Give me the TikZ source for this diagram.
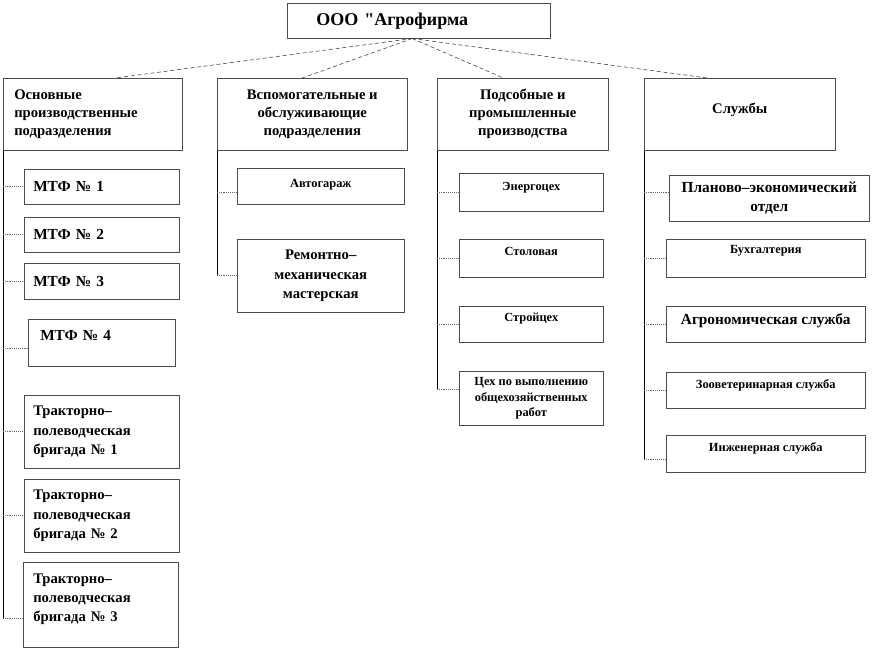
\documentclass[tikz,border=0pt]{standalone}
\usepackage{fontspec}
\setmainfont{Liberation Serif}
\begin{document}
\begin{tikzpicture}[x=0.75pt, y=-0.75pt,
                box/.style={draw=black!70, thin, anchor=north west, inner sep=0pt},
                sz/.style 2 args={minimum width=#1*0.75pt, minimum height=#2*0.75pt},
                lft/.style 2 args={align=left, inner xsep=#2*0.75pt, text width=(#1-2*#2)*0.75pt},
                ttl/.style={font=\bfseries\fontsize{13.5}{16}\selectfont},
                big/.style={font=\bfseries\fontsize{11}{13.5}\selectfont},
                mtf/.style={font=\bfseries\fontsize{11.5}{14}\selectfont},
                mid/.style={font=\bfseries\fontsize{11}{14.5}\selectfont},
                wide/.style={font=\bfseries\fontsize{11.5}{14.25}\selectfont},
                small/.style={font=\bfseries\fontsize{9.3}{11.6}\selectfont},
                bus/.style={black, thin},
                branch/.style={black!60, densely dotted, thin},
                link/.style={black!80, densely dashed, thin}]
                \useasboundingbox (0,0) rectangle (872,648);
                \node[box, sz={263}{35}, lft={263}{29}, ttl] (top) at (287,3) {ООО \textquotedbl Агрофирма};
                \node[box, sz={179}{72}, lft={179}{11}, big] (c1) at (3,78) {Основные\\производственные\\подразделения};
                \node[box, sz={190}{72}, align=center, big] (c2) at (217,78) {Вспомогательные и\\обслуживающие\\подразделения};
                \node[box, sz={171}{72}, align=center, big] (c3) at (437,78) {Подсобные и\\промышленные\\производства};
                \node[box, sz={191}{72}, big, text depth=8.3pt] (c4) at (644,78) {Службы};
                \node[box, sz={155}{35}, lft={155}{9}, mtf] (m1) at (24,169) {МТФ № 1};
                \node[box, sz={155}{35}, lft={155}{9}, mtf] (m2) at (24,217) {МТФ № 2};
                \node[box, sz={155}{36}, lft={155}{9}, mtf] (m3) at (24,263) {МТФ № 3};
                \node[box, sz={147}{47}, lft={147}{12}, mtf, text depth=11.2pt] (m4) at (28,319) {МТФ № 4};
                \node[box, sz={155}{73}, lft={155}{9}, mid] (t1) at (24,395) {Тракторно–\\полеводческая\\бригада № 1};
                \node[box, sz={155}{73}, lft={155}{9}, mid] (t2) at (24,479) {Тракторно–\\полеводческая\\бригада № 2};
                \node[box, sz={155}{85}, lft={155}{10}, mid, text depth=39.5pt] (t3) at (23,562) {Тракторно–\\полеводческая\\бригада № 3};
                \node[box, sz={167}{36}, small, text depth=5pt] (a1) at (237,168) {Автогараж};
                \node[box, sz={167}{73}, align=center, mid] (a2) at (237,239) {Ремонтно–\\механическая\\мастерская};
                \node[box, sz={144}{38}, small, text depth=9.5pt] (p1) at (459,173) {Энергоцех};
                \node[box, sz={144}{38}, small, text depth=10.5pt] (p2) at (459,239) {Столовая};
                \node[box, sz={144}{36}, small, text depth=11pt] (p3) at (459,306) {Стройцех};
                \node[box, sz={144}{54}, align=center, small] (p4) at (459,371) {Цех по выполнению\\общехозяйственных\\работ};
                \node[box, sz={200}{46}, align=center, wide] (s1) at (669,175) {Планово–экономический\\отдел};
                \node[box, sz={199}{38}, small, text depth=12.5pt] (s2) at (666,239) {Бухгалтерия};
                \node[box, sz={199}{36}, wide, text depth=8.5pt] (s3) at (666,306) {Агрономическая служба};
                \node[box, sz={199}{36}, small, text depth=9.5pt] (s4) at (666,372) {Зооветеринарная служба};
                \node[box, sz={199}{37}, small, text depth=9.5pt] (s5) at (666,435) {Инженерная служба};
                \coordinate (hub) at ([xshift=-4.9pt]top.south);
                \foreach \c/\d in {c1/22.5, c2/-10, c3/-19.5, c4/-32.5}
                    \draw[link] (hub) -- ([xshift=\d*0.75pt]\c.north);
                \draw[bus] (c1.south west) -- ([yshift=-10.1pt]t3.west -| c1.south west);
                \draw[bus] (c2.south west) -- (a2.west -| c2.south west);
                \draw[bus] (c3.south west) -- ([yshift=6.75pt]p4.west -| c3.south west);
                \draw[bus] (c4.south west) -- ([yshift=-4.1pt]s5.west -| c4.south west);
                \foreach \n/\d in {m1/0, m2/0, m3/0, m4/-6, t1/0, t2/0, t3/-13.5}
                    \draw[branch] ([yshift=\d*0.75pt]\n.west -| c1.south west) -- ([yshift=\d*0.75pt]\n.west);
                \foreach \n/\d in {a1/-6, a2/0}
                    \draw[branch] ([yshift=\d*0.75pt]\n.west -| c2.south west) -- ([yshift=\d*0.75pt]\n.west);
                \foreach \n/\d in {p1/0, p2/0, p3/0, p4/9}
                    \draw[branch] ([yshift=\d*0.75pt]\n.west -| c3.south west) -- ([yshift=\d*0.75pt]\n.west);
                \foreach \n/\d in {s1/6, s2/0, s3/0, s4/0, s5/-5.5}
                    \draw[branch] ([yshift=\d*0.75pt]\n.west -| c4.south west) -- ([yshift=\d*0.75pt]\n.west);
            \end{tikzpicture}
\end{document}
